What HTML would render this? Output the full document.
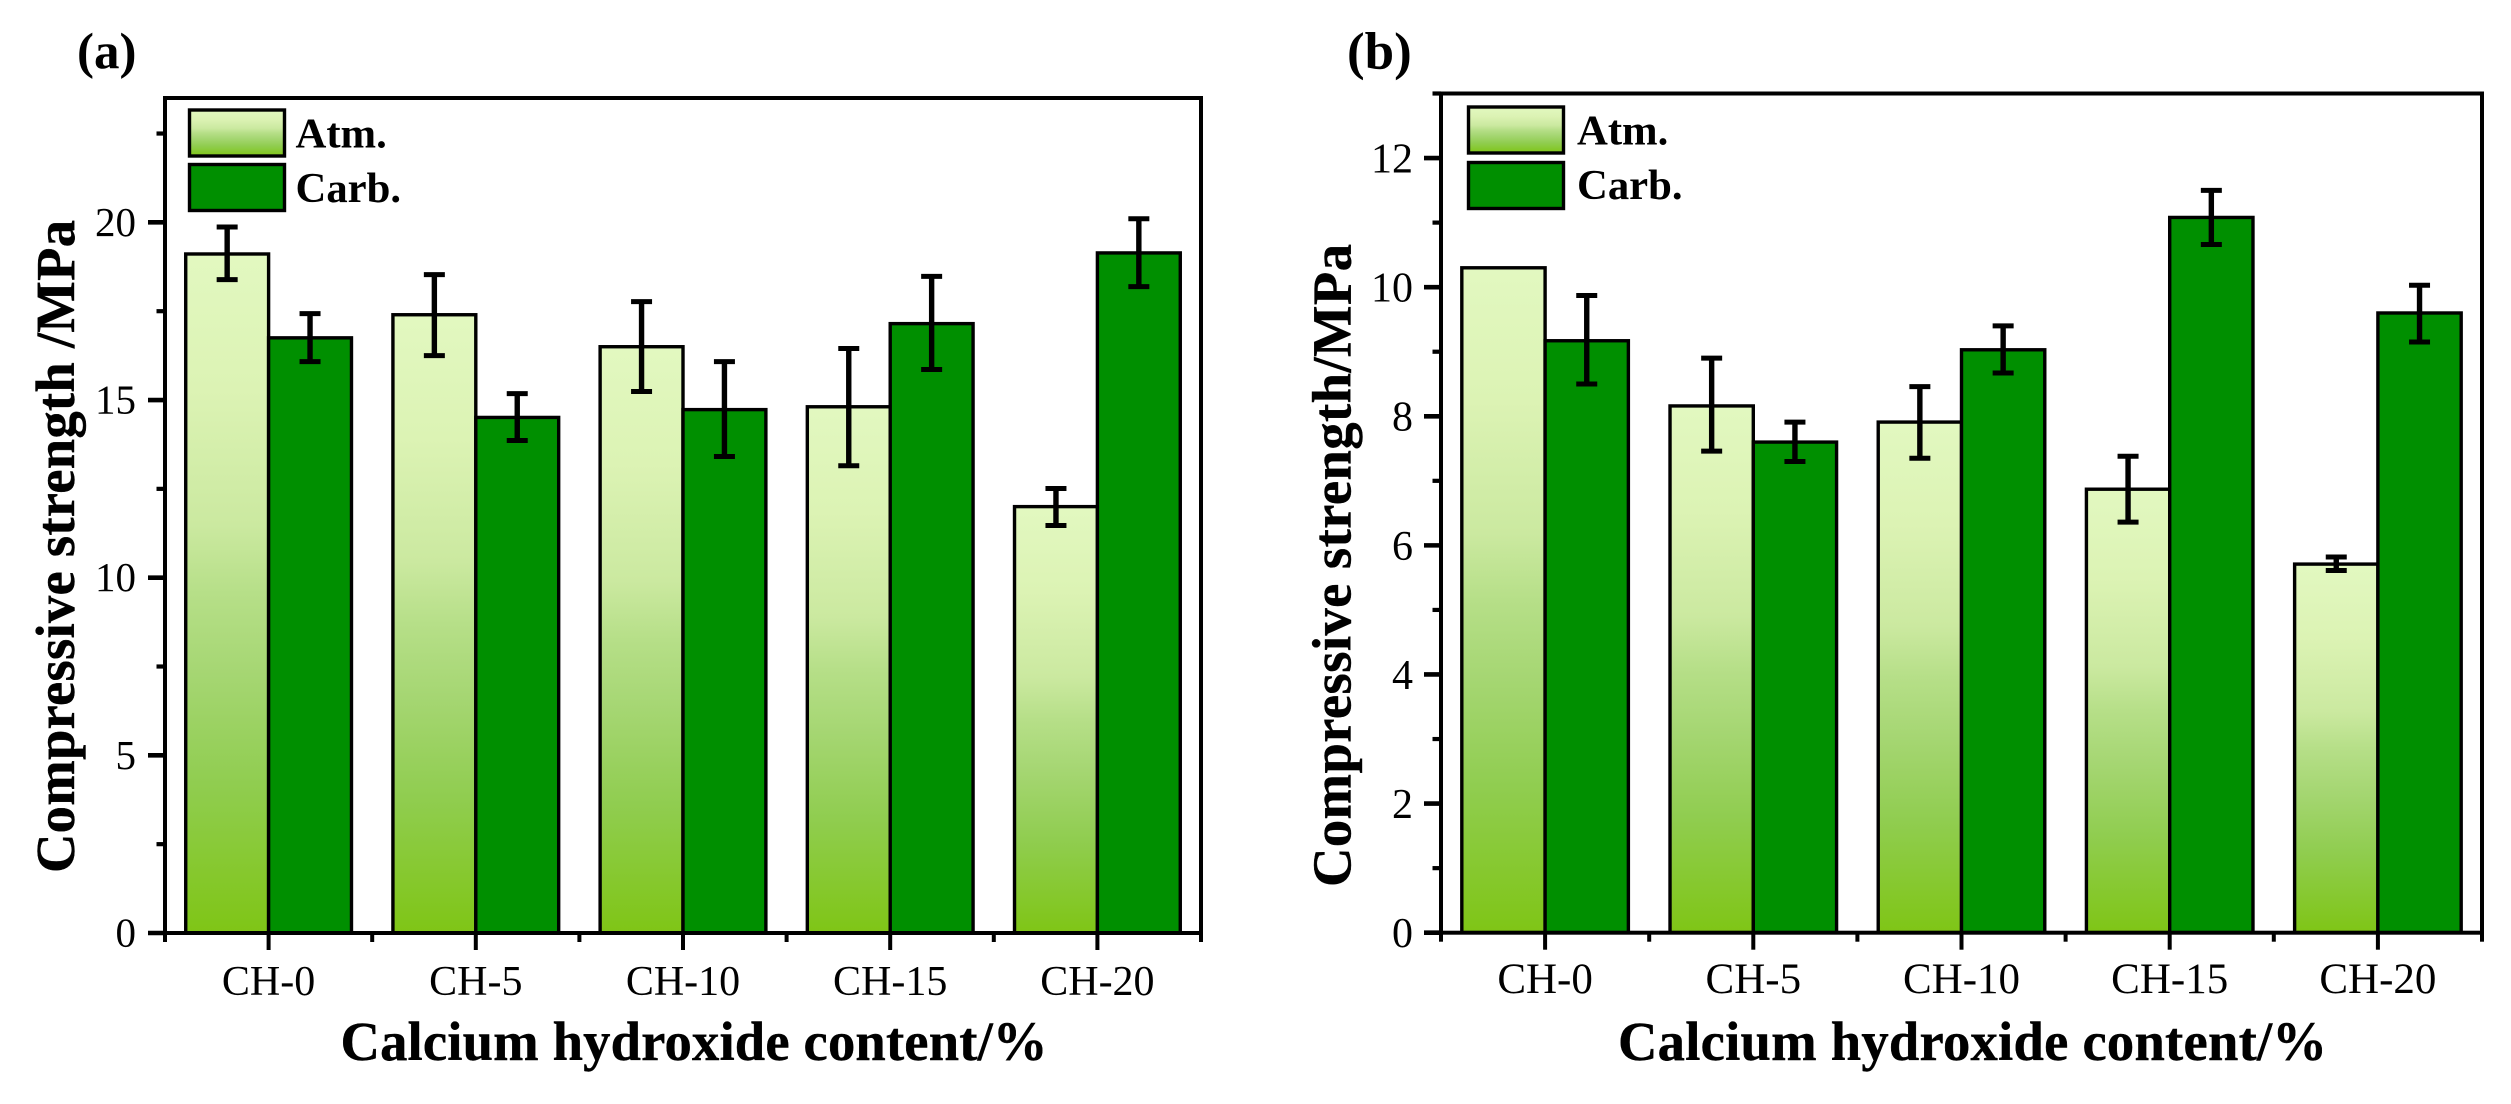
<!DOCTYPE html>
<html lang="en">
<head>
<meta charset="utf-8">
<title>Compressive strength charts</title>
<style>
html,body{margin:0;padding:0;background:#fff;width:2511px;height:1104px;overflow:hidden}
svg{display:block;position:absolute;left:0;top:0}
text{font-family:"Liberation Serif",serif;fill:#000}
</style>
</head>
<body>
<svg id="chart" xmlns="http://www.w3.org/2000/svg" width="2511" height="1104" viewBox="0 0 2511 1104">
<defs>
<linearGradient id="atmGrad" x1="0" y1="0" x2="0" y2="1">
<stop offset="0" stop-color="#e2f8c0"/>
<stop offset="0.2" stop-color="#dcf3b4"/>
<stop offset="0.4" stop-color="#cbe9a0"/>
<stop offset="0.5" stop-color="#b6df88"/>
<stop offset="0.62" stop-color="#a5d672"/>
<stop offset="0.78" stop-color="#90cd50"/>
<stop offset="1" stop-color="#7fc516"/>
</linearGradient>
</defs>
</svg>
<script>
const categories = ['CH-0', 'CH-5', 'CH-10', 'CH-15', 'CH-20'];

const aAtm = [19.11, 17.40, 16.50, 14.81, 12.00];
const aAtmHigh = [19.87, 18.53, 17.77, 16.45, 12.51];
const aAtmLow = [18.39, 16.25, 15.24, 13.15, 11.47];
const aCarb = [16.75, 14.51, 14.73, 17.15, 19.14];
const aCarbHigh = [17.43, 15.18, 16.08, 18.48, 20.10];
const aCarbLow = [16.08, 13.86, 13.41, 15.86, 18.19];
const aMajorTicks = [0, 5, 10, 15, 20];
const aMinorTicks = [2.5, 7.5, 12.5, 17.5, 22.5];

const bAtm = [10.30, 8.16, 7.91, 6.87, 5.71];
const bAtmHigh = [10.30, 8.90, 8.46, 7.38, 5.82];
const bAtmLow = [10.30, 7.46, 7.35, 6.36, 5.61];
const bCarb = [9.17, 7.60, 9.03, 11.08, 9.60];
const bCarbHigh = [9.87, 7.91, 9.40, 11.50, 10.03];
const bCarbLow = [8.50, 7.30, 8.67, 10.66, 9.15];
const bMajorTicks = [0, 2, 4, 6, 8, 10, 12];
const bMinorTicks = [1, 3, 5, 7, 9, 11, 13];

const svg = document.getElementById('chart');
const NS = 'http://www.w3.org/2000/svg';

function add(parent, tag, attrs, text) {
  const el = document.createElementNS(NS, tag);
  for (const k in attrs) el.setAttribute(k, attrs[k]);
  if (text !== undefined) el.textContent = text;
  parent.appendChild(el);
  return el;
}

function drawPanel(cfg, atm, atmHigh, atmLow, carb, carbHigh, carbLow, majorTicks, minorTicks) {
  const group = add(svg, 'g', {});
  
  

  const n = categories.length;
  const step = (cfg.right - cfg.left) / n;
  const xCenter = i => cfg.left + step * (i + 0.5);
  const barW = step * 0.4;
  const y = v => cfg.bottom - (v / cfg.yMax) * (cfg.bottom - cfg.top);

  function bar(i, v, x, fill, label) {
    const r = add(group, 'rect', {
      x: x, y: y(v), width: barW, height: cfg.bottom - y(v),
      fill: fill, stroke: '#000', 'stroke-width': 3.4
    });
    
    
  }
  function err(i, hi, lo, x, label) {
    if (hi === lo) return;
    const g = add(group, 'g', { stroke: '#000', fill: 'none' });
    
    
    add(g, 'line', { x1: x, x2: x, y1: y(hi), y2: y(lo), 'stroke-width': 5.4 });
    add(g, 'line', { x1: x - 10.5, x2: x + 10.5, y1: y(hi), y2: y(hi), 'stroke-width': 5 });
    add(g, 'line', { x1: x - 10.5, x2: x + 10.5, y1: y(lo), y2: y(lo), 'stroke-width': 5 });
  }

  for (let i = 0; i < n; i++) {
    bar(i, atm[i], xCenter(i) - barW, 'url(#atmGrad)', 'atm');
  }
  for (let i = 0; i < n; i++) {
    bar(i, carb[i], xCenter(i), '#008f00', 'carb');
  }
  for (let i = 0; i < n; i++) {
    err(i, atmHigh[i], atmLow[i], xCenter(i) - barW / 2, 'atm');
    err(i, carbHigh[i], carbLow[i], xCenter(i) + barW / 2, 'carb');
  }

  // frame
  const frame = add(group, 'rect', {
    x: cfg.left, y: cfg.top, width: cfg.right - cfg.left, height: cfg.bottom - cfg.top,
    fill: 'none', stroke: '#000', 'stroke-width': 4
  });
  
  

  // y ticks
  majorTicks.forEach(v => {
    const t = add(group, 'line', { x1: cfg.left - 17, x2: cfg.left, y1: y(v), y2: y(v), stroke: '#000', 'stroke-width': 4.6 });
    
    
    const l = add(group, 'text', { x: cfg.yLabelX, y: y(v) + cfg.yLabelDy, 'text-anchor': 'end', 'font-size': cfg.tickSize }, String(v));
    
    
  });
  minorTicks.forEach(v => {
    const t = add(group, 'line', { x1: cfg.left - 8.5, x2: cfg.left, y1: y(v), y2: y(v), stroke: '#000', 'stroke-width': 4.2 });
    
    
  });

  // x ticks
  for (let i = 0; i < n; i++) {
    const t = add(group, 'line', { x1: xCenter(i), x2: xCenter(i), y1: cfg.bottom, y2: cfg.bottom + 17, stroke: '#000', 'stroke-width': 4 });
    
    
    const l = add(group, 'text', { x: xCenter(i), y: cfg.xLabelY, 'text-anchor': 'middle', 'font-size': cfg.xTickSize }, categories[i]);
    
    
  }
  for (let i = 0; i <= n; i++) {
    const xm = cfg.left + step * i;
    const t = add(group, 'line', { x1: xm, x2: xm, y1: cfg.bottom, y2: cfg.bottom + 9, stroke: '#000', 'stroke-width': 4 });
    
    
  }

  // titles
  const xt = add(group, 'text', {
    x: cfg.xTitleX, y: cfg.xTitleY, 'font-size': 54.6, 'font-weight': 'bold',
    textLength: cfg.xTitleLen, lengthAdjust: 'spacing', stroke: '#000', 'stroke-width': 0.4
  }, 'Calcium hydroxide content/%');
  
  

  const yt = add(group, 'text', {
    transform: 'translate(' + cfg.yTitleX + ',' + cfg.yTitleY + ') rotate(-90)',
    'font-size': 54.6, 'font-weight': 'bold', textLength: cfg.yTitleLen, lengthAdjust: 'spacing',
    stroke: '#000', 'stroke-width': 0.4
  }, cfg.yTitle);
  
  

  const pl = add(group, 'text', { x: cfg.tagX, y: cfg.tagY, 'font-size': cfg.tagSize, 'font-weight': 'bold' }, cfg.tag);
  
  

  // legend
  const s1 = add(group, 'rect', { x: cfg.legX, y: cfg.legY1, width: 95, height: 46, fill: 'url(#atmGrad)', stroke: '#000', 'stroke-width': 3.4 });
  
  
  const s2 = add(group, 'rect', { x: cfg.legX, y: cfg.legY2, width: 95, height: 46, fill: '#008f00', stroke: '#000', 'stroke-width': 3.4 });
  
  
  const t1 = add(group, 'text', { x: cfg.legTextX, y: cfg.legBase1, 'font-size': 42.7, 'font-weight': 'bold' }, 'Atm.');
  
  
  const t2 = add(group, 'text', { x: cfg.legTextX, y: cfg.legBase2, 'font-size': 42.7, 'font-weight': 'bold' }, 'Carb.');
  
  
}

drawPanel({
  name: 'panel-a', left: 165, right: 1201, top: 98, bottom: 933, yMax: 23.5,
  yLabelX: 136, yLabelDy: 13.5, tickSize: 41, xTickSize: 42, xLabelY: 995,
  xTitleX: 340.5, xTitleY: 1060, xTitleLen: 707,
  yTitle: 'Compressive strength /MPa', yTitleX: 74, yTitleY: 873, yTitleLen: 653,
  tag: '(a)', tagX: 77, tagY: 68, tagSize: 51,
  legX: 189.5, legY1: 110, legY2: 164.5, legTextX: 295.5, legBase1: 147.7, legBase2: 202
}, aAtm, aAtmHigh, aAtmLow, aCarb, aCarbHigh, aCarbLow, aMajorTicks, aMinorTicks);

drawPanel({
  name: 'panel-b', left: 1441, right: 2482, top: 93.5, bottom: 932.7, yMax: 13,
  yLabelX: 1413, yLabelDy: 14.4, tickSize: 42, xTickSize: 43, xLabelY: 993,
  xTitleX: 1618, xTitleY: 1060, xTitleLen: 709,
  yTitle: 'Compressive strength/MPa', yTitleX: 1350.5, yTitleY: 887, yTitleLen: 643,
  tag: '(b)', tagX: 1347, tagY: 69, tagSize: 53,
  legX: 1468.5, legY1: 107, legY2: 162.5, legTextX: 1577, legBase1: 144.7, legBase2: 199
}, bAtm, bAtmHigh, bAtmLow, bCarb, bCarbHigh, bCarbLow, bMajorTicks, bMinorTicks);
</script>
</body>
</html>
